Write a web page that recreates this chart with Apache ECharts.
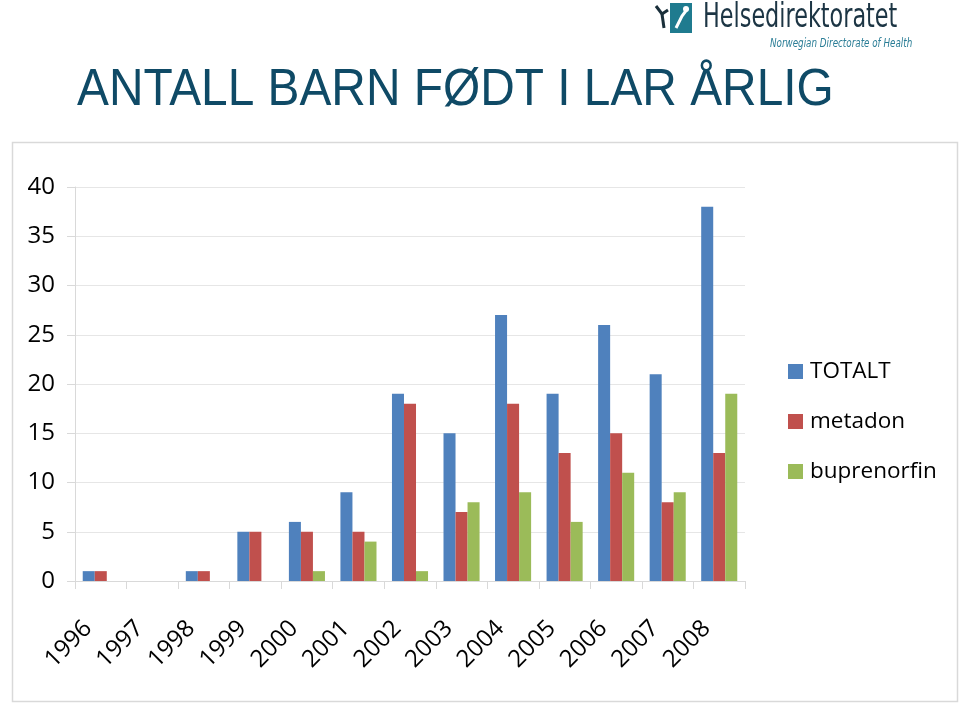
<!DOCTYPE html>
<html>
<head>
<meta charset="utf-8">
<script src="https://cdn.jsdelivr.net/npm/echarts@6/dist/echarts.min.js"></script>
<style>html,body{margin:0;padding:0;background:#fff;}#c{width:960px;height:705px;}</style>
</head>
<body>
<div id="c"></div>
<script>
const years = ['1996','1997','1998','1999','2000','2001','2002','2003','2004','2005','2006','2007','2008'];
const totalt = [1,0,1,5,6,9,19,15,27,19,26,21,38];
const metadon = [1,0,1,5,5,5,18,7,18,13,15,8,13];
const buprenorfin = [0,0,0,0,1,4,1,8,9,6,11,9,19];
const seriesNames = ['TOTALT','metadon','buprenorfin'];
const colors = ['#4F81BD','#C0504D','#9BBB59'];
const titleText = 'ANTALL BARN FØDT I LAR ÅRLIG';

const chart = echarts.init(document.getElementById('c'));
const font = 'Open Sans, Lato, sans-serif';
chart.setOption({
  animation: false,
  color: colors,
  graphic: [
    {type: 'rect', shape: {x: 12.5, y: 142.5, width: 945, height: 559}, style: {fill: 'none', stroke: '#d9d9d9', lineWidth: 1.5}, z: -1},
    {type: 'text', x: 77, y: 65, scaleX: 0.92, style: {text: titleText, font: '52px "Liberation Sans", Arial, sans-serif', fill: '#0f4a66'}},
    {type: 'rect', shape: {x: 670, y: 3, width: 22, height: 30}, style: {fill: '#1f7b8f'}},
    {type: 'polyline', shape: {points: [[676,28],[682,16],[688,8]]}, style: {stroke: '#ffffff', lineWidth: 3, fill: 'none'}},
    {type: 'circle', shape: {cx: 686, cy: 9, r: 3}, style: {fill: '#ffffff'}},
    {type: 'polyline', shape: {points: [[656,6],[662,14],[668,10]]}, style: {stroke: '#1a2f3a', lineWidth: 3, fill: 'none'}},
    {type: 'polyline', shape: {points: [[662,14],[664,28]]}, style: {stroke: '#1a2f3a', lineWidth: 3, fill: 'none'}},
    {type: 'text', x: 703, y: 1, scaleX: 0.73, style: {text: 'Helsedirektoratet', font: '34px "DejaVu Sans Condensed", "Liberation Sans Narrow", sans-serif', fill: '#1c3544'}},
    {type: 'text', x: 770, y: 37, scaleX: 0.78, style: {text: 'Norwegian Directorate of Health', font: 'italic 12.5px "DejaVu Sans Condensed", "Liberation Sans Narrow", sans-serif', fill: '#2a7d96'}}
  ],
  legend: {
    orient: 'vertical',
    left: 783, top: 355,
    itemWidth: 15, itemHeight: 15, itemGap: 27,
    icon: 'rect',
    textStyle: {fontFamily: font, fontSize: 22.5, color: '#000', padding: [0,0,0,2]},
    data: seriesNames
  },
  grid: {left: 75, right: 215, top: 187, bottom: 124, containLabel: false},
  xAxis: {
    type: 'category',
    data: years,
    boundaryGap: true,
    axisLine: {lineStyle: {color: '#d9d9d9'}},
    axisTick: {show: true, length: 8, lineStyle: {color: '#d9d9d9'}, alignWithLabel: false},
    axisLabel: {rotate: 45, fontFamily: font, fontSize: 24, color: '#000', margin: 31, padding: [0, 18, 0, 0], interval: 0}
  },
  yAxis: {
    type: 'value',
    min: 0, max: 40, interval: 5,
    axisLine: {show: true, lineStyle: {color: '#d9d9d9'}},
    axisTick: {show: true, length: 8, lineStyle: {color: '#d9d9d9'}},
    splitLine: {lineStyle: {color: '#e6e6e6'}},
    axisLabel: {fontFamily: font, fontSize: 24, color: '#000', margin: 20}
  },
  series: [
    {name: seriesNames[0], type: 'bar', data: totalt, barGap: '0%', barCategoryGap: '30%'},
    {name: seriesNames[1], type: 'bar', data: metadon, barGap: '0%', barCategoryGap: '30%'},
    {name: seriesNames[2], type: 'bar', data: buprenorfin, barGap: '0%', barCategoryGap: '30%'}
  ]
});
</script>
</body>
</html>
